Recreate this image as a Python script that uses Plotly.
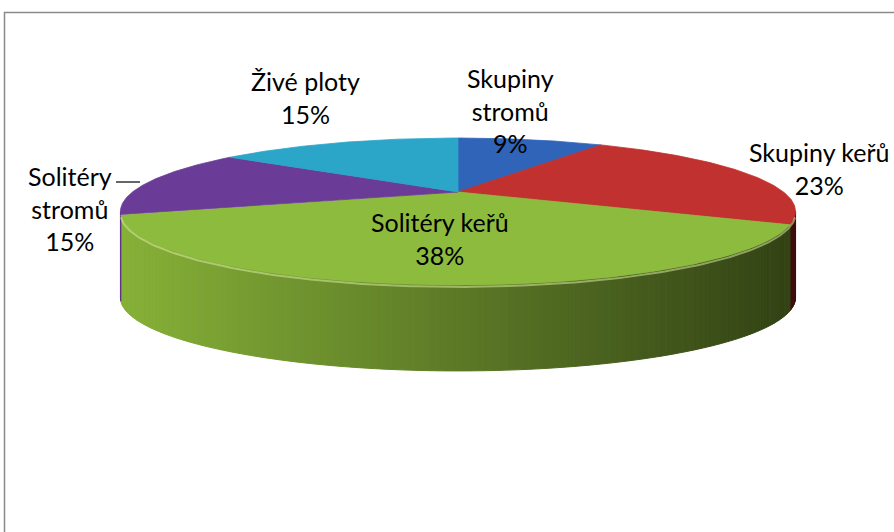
import numpy as np
import plotly.graph_objects as go

labels = ["Skupiny stromů", "Skupiny keřů", "Solitéry keřů", "Solitéry stromů", "Živé ploty"]
values = [9, 23, 38, 15, 15]
top_colors = ["#2f64b9", "#c0312f", "#8dbb3d", "#6b3c97", "#2ba6c9"]
side_colors = ["#2a58a4", "#a02725", "#84ae37", "#5e3386", "#2590b0"]

# label placement (pixel space of the 894x532 canvas)
label_x = [510, 819, 440, 70, 305]
label_y = [110, 168, 238, 208, 97]
label_text = ["Skupiny<br>stromů<br>9%", "Skupiny keřů<br>23%", "Solitéry keřů<br>38%",
              "Solitéry<br>stromů<br>15%", "Živé ploty<br>15%"]

# 3D pie geometry: flattened disc with a bit of perspective
CX, CY, RX, RY, PERSP, DEPTH = 458, 192, 325.5, 68.3, 0.265, 86
W, H = 894, 532


def project(theta):
    w = np.cos(theta)
    p = 1 / (1 + PERSP * w)
    return CX + RX * np.sin(theta) * p, CY - RY * w * p


def shade(hex_color, f):
    r, g, b = (int(hex_color[i:i + 2], 16) for i in (1, 3, 5))
    return f"rgb({int(r * f)},{int(g * f)},{int(b * f)})"


fig = go.Figure()

total = sum(values)
bounds = np.concatenate([[0], np.cumsum(values)]) / total * 2 * np.pi

# side wall, visible only on the near half of the disc
vis_lo, vis_hi = np.arccos(-PERSP), 2 * np.pi - np.arccos(-PERSP)
x_left, x_right = project(vis_hi)[0], project(vis_lo)[0]
for i in range(len(values)):
    t0, t1 = max(bounds[i], vis_lo), min(bounds[i + 1], vis_hi)
    if t1 <= t0:
        continue
    n = max(2, int(np.degrees(t1 - t0)))
    edges = np.linspace(t0, t1, n + 1)
    for a, b in zip(edges[:-1], edges[1:]):
        seg = np.linspace(a, b, 4)
        xs, ys = project(seg)
        xm = project((a + b) / 2)[0]
        f = 1.02 - 0.64 * (xm - x_left) / (x_right - x_left)
        col = shade(side_colors[i], f)
        fig.add_trace(go.Scatter(
            x=list(xs) + list(xs[::-1]) + [xs[0]],
            y=list(ys) + list(ys[::-1] + DEPTH) + [ys[0]],
            fill="toself", fillcolor=col, mode="lines",
            line=dict(color=col, width=1), hoverinfo="skip", showlegend=False,
        ))

# top faces
for i in range(len(values)):
    th = np.linspace(bounds[i], bounds[i + 1], 120)
    xs, ys = project(th)
    fig.add_trace(go.Scatter(
        x=[CX] + list(xs) + [CX], y=[CY] + list(ys) + [CY],
        fill="toself", fillcolor=top_colors[i], mode="lines",
        line=dict(color=top_colors[i], width=0.8), hoverinfo="skip", showlegend=False,
    ))

# soft highlight along the front rim of the top face
th = np.linspace(vis_lo + 0.05, vis_hi - 0.05, 200)
xs, ys = project(th)
fig.add_trace(go.Scatter(
    x=xs, y=ys + 2, mode="lines", line=dict(color="rgba(215,235,160,0.55)", width=2),
    hoverinfo="skip", showlegend=False,
))

for x, y, t in zip(label_x, label_y, label_text):
    fig.add_annotation(x=x, y=y, text=t, showarrow=False,
                       font=dict(family="Lato, sans-serif", size=25, color="#000000"))

# leader line for Solitéry stromů
fig.add_shape(type="line", x0=116, y0=182, x1=140, y1=182, line=dict(color="#000000", width=1.2))

# chart area border
fig.add_shape(type="rect", x0=4.5, y0=12.5, x1=W + 10, y1=H + 10,
              line=dict(color="#8a8a8a", width=1.5))

fig.update_layout(
    width=W, height=H,
    margin=dict(l=0, r=0, t=0, b=0),
    paper_bgcolor="white", plot_bgcolor="white",
    xaxis=dict(range=[0, W], visible=False, fixedrange=True),
    yaxis=dict(range=[H, 0], visible=False, fixedrange=True),
    showlegend=False,
)

fig.write_html("out.html", config=dict(displayModeBar=False),
               post_script="document.body.style.margin='0';document.body.style.overflow='hidden';")
